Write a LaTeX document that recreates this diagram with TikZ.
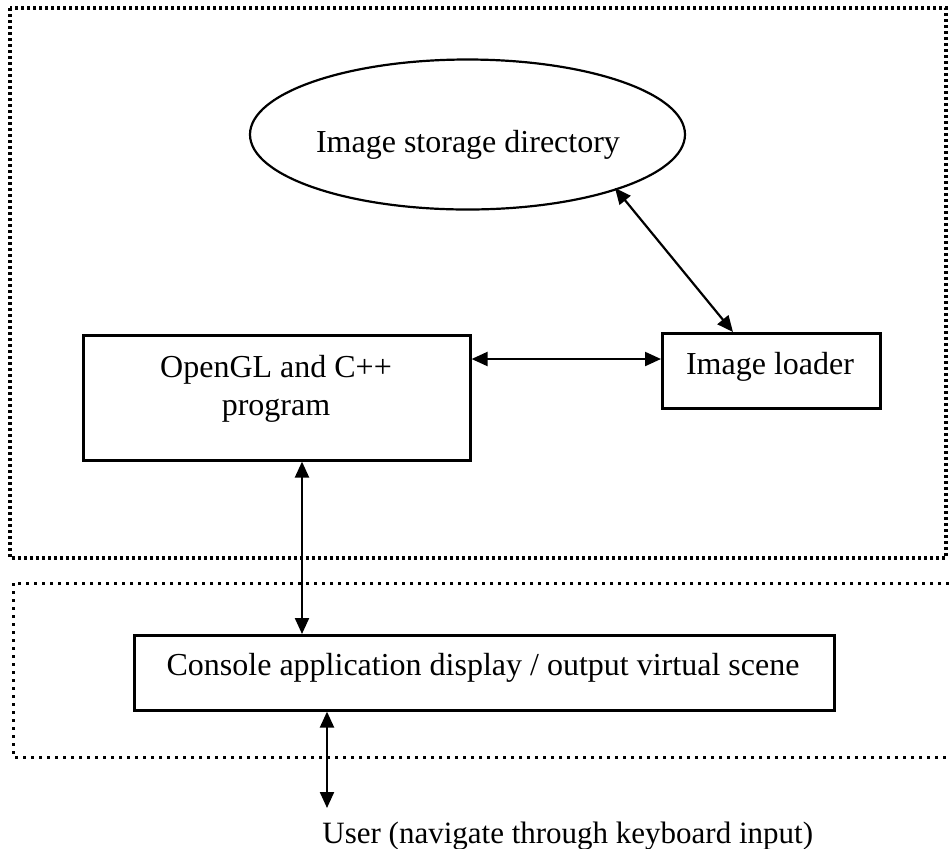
\documentclass[tikz,border=0pt]{standalone}
\usepackage{fontspec}
\setmainfont{Liberation Serif}
\usetikzlibrary{arrows.meta,shapes.geometric}
\begin{document}
\begin{tikzpicture}[x=0.5pt,y=-0.5pt,
  every node/.style={font=\fontsize{16pt}{19pt}\selectfont, inner sep=0pt},
  boxshape/.style={draw, line width=1.3pt, rectangle, anchor=north west},
  zoneA/.style={line width=1.6pt, dash pattern=on 1.6pt off 1.4pt},
  zoneB/.style={line width=1.5pt, dash pattern=on 1.5pt off 2.5pt},
  dblarrow/.style={line width=1.1pt, {Triangle[length=8pt,width=7pt]}-{Triangle[length=8pt,width=7pt]}},
  lbl/.style={anchor=base, align=center}
]
\useasboundingbox (0,0) rectangle (949,848);
% dotted zones
\draw[zoneA] (10,8) rectangle (946,558);
\draw[zoneB] (949,583) -- (13,583) -- (13,757) -- (949,757);
% ellipse
\node[draw, line width=1.1pt, ellipse, minimum width=217.5pt, minimum height=75pt] (store) at (467.5,134.5) {};
\node[lbl] (storetext) at (468,152) {Image storage directory};
% boxes
\node[boxshape, minimum width=193.5pt, minimum height=62.5pt] (ogl) at (82,334) {};
\node[lbl] (ogltext) at (276,415) {OpenGL and C++\\program};
\node[boxshape, minimum width=109pt, minimum height=37.5pt] (loader) at (661,332) {};
\node[lbl] (loadertext) at (770,374) {Image loader};
\node[boxshape, minimum width=350pt, minimum height=37.5pt] (console) at (133,634) {};
\node[lbl] (consoletext) at (483,675) {Console application display / output virtual scene};
\node[anchor=base west, font=\fontsize{15.5pt}{18pt}\selectfont] (user) at (322,843) {User (navigate through keyboard input)};
% connectors
\coordinate (storeP) at (615,188);
\coordinate (loaderP) at (733,332);
\draw[dblarrow] (storeP) -- (loaderP);
\draw[dblarrow] (ogl.east |- 0,359) -- (loader.west |- 0,359);
\draw[dblarrow] (ogl.south -| 302,0) -- (console.north -| 302,0);
\coordinate (userP) at (327,808);
\draw[dblarrow] (console.south -| 327,0) -- (userP);
\end{tikzpicture}
\end{document}
